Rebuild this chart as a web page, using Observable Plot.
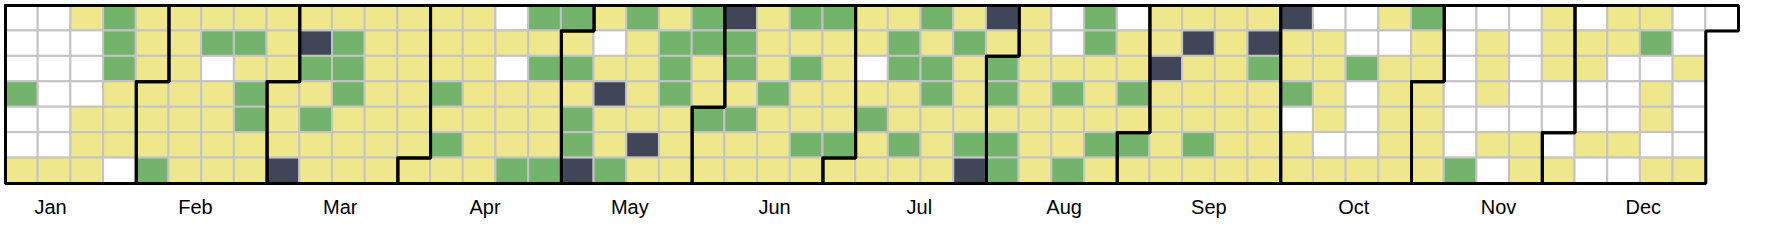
<!DOCTYPE html>
<html>
<head>
<meta charset="utf-8">
<script src="https://cdn.jsdelivr.net/npm/d3@7"></script>
<script src="https://cdn.jsdelivr.net/npm/@observablehq/plot@0.6"></script>
<style>
  html, body { margin: 0; padding: 0; background: #ffffff; }
  #chart svg { display: block; }
</style>
</head>
<body>
<div id="chart"></div>
<script>
// Month labels
const monthNames = ["Jan","Feb","Mar","Apr","May","Jun","Jul","Aug","Sep","Oct","Nov","Dec"];

// Category levels (0 = none, 1 = low, 2 = medium, 3 = high)
const levels = [0, 1, 2, 3];
const levelColors = ["#ffffff", "#efe78b", "#74b36c", "#404657"];

// Daily values per month, in day order
const jan = [0,0,0,2,0,0,1, 0,0,0,0,0,0,1, 1,0,0,0,1,1,1, 2,2,2,1,1,1,0, 1,1,1];
const feb = [1,1,1,2, 1,1,1,1,1,1,1, 1,2,0,1,1,1,1, 1,2,1,2,2,1,1, 1,1,1];
const mar = [1,1,1,3, 1,3,2,1,2,1,1, 1,2,2,2,1,1,1, 1,1,1,1,1,1,1, 1,1,1,1,1,1];
const apr = [1, 1,1,1,2,1,2,1, 1,1,1,1,1,1,1, 0,1,0,1,1,1,2, 2,1,2,1,1,1,2, 2];
const may = [1,2,1,2,2,3, 1,0,1,3,1,1,2, 2,1,1,1,1,3,1, 1,2,2,2,1,1,1, 2,2,1,1];
const jun = [2,1,1, 3,2,2,1,2,1,1, 1,1,1,2,1,1,1, 2,1,2,1,1,2,1, 2,1,1,1,1,2];
const jul = [1, 1,1,0,1,2,1,1, 1,2,2,1,1,2,1, 2,1,2,2,1,1,1, 1,2,1,1,1,2,3, 3,1];
const aug = [2,2,1,2,2, 1,1,1,1,1,1,1, 0,0,1,2,1,1,2, 2,2,1,1,1,2,1, 0,1,1,2,1];
const sep = [2,1, 1,1,3,1,1,1,1, 1,3,1,1,1,2,1, 1,1,1,1,1,1,1, 1,3,2,1,1,1,1];
const oct = [3,1,1,2,0,1,1, 0,1,1,1,1,0,1, 0,0,2,0,0,0,1, 1,0,1,1,1,1,1, 2,1,1];
const nov = [1,1,1,1, 0,0,0,0,0,0,2, 0,1,1,1,0,1,0, 0,0,0,0,0,1,1, 1,1,1,0,0];
const dec = [0,1, 0,1,1,0,0,1,0, 1,1,0,0,0,1,0, 1,2,0,1,1,0,1, 0,0,1,0,0,0,1, 0];

const months = [jan, feb, mar, apr, may, jun, jul, aug, sep, oct, nov, dec];

// Build day table: week column and weekday row from day-of-year
const days = [];
const outline = [];
let doy = 0;
months.forEach((vals, m) => {
  const a = doy;
  vals.forEach(v => {
    days.push({doy, week: Math.floor(doy / 7), row: doy % 7, level: v, month: m});
    doy++;
  });
  const b = doy - 1;
  const ca = Math.floor(a / 7), ra = a % 7;
  const cb = Math.floor(b / 7), rb = b % 7;
  const pts = [
    [ca, ra], [ca + 1, ra], [ca + 1, 0], [cb + 1, 0],
    [cb + 1, rb + 1], [cb, rb + 1], [cb, 7], [ca, 7], [ca, ra]
  ];
  pts.forEach(([x, y]) => outline.push({m, x, y}));
});
const nWeeks = Math.ceil(doy / 7);

const labelStart = 1.38, labelStep = 4.428;

const chart = Plot.plot({
  width: 1768,
  height: 248,
  marginLeft: 5,
  marginRight: 30,
  marginTop: 5,
  marginBottom: 65,
  x: {domain: [0, nWeeks], axis: null},
  y: {domain: [0, 7], reverse: true, axis: null},
  color: {type: "ordinal", domain: levels, range: levelColors},
  style: {background: "#ffffff", fontFamily: "'Liberation Sans', Arial, sans-serif"},
  marks: [
    Plot.rect(days, {
      x1: "week", x2: d => d.week + 1,
      y1: "row", y2: d => d.row + 1,
      fill: "level",
      stroke: "#c4c4c4", strokeWidth: 2
    }),
    Plot.line(outline, {
      x: "x", y: "y", z: "m",
      stroke: "#000000", strokeWidth: 3,
      strokeLinejoin: "miter", strokeLinecap: "square"
    }),
    Plot.text(monthNames, {
      x: (d, i) => labelStart + i * labelStep,
      y: () => 7,
      dy: 24,
      text: d => d,
      fontSize: 20,
      fill: "#000000"
    })
  ]
});
document.getElementById("chart").appendChild(chart);
</script>
</body>
</html>
